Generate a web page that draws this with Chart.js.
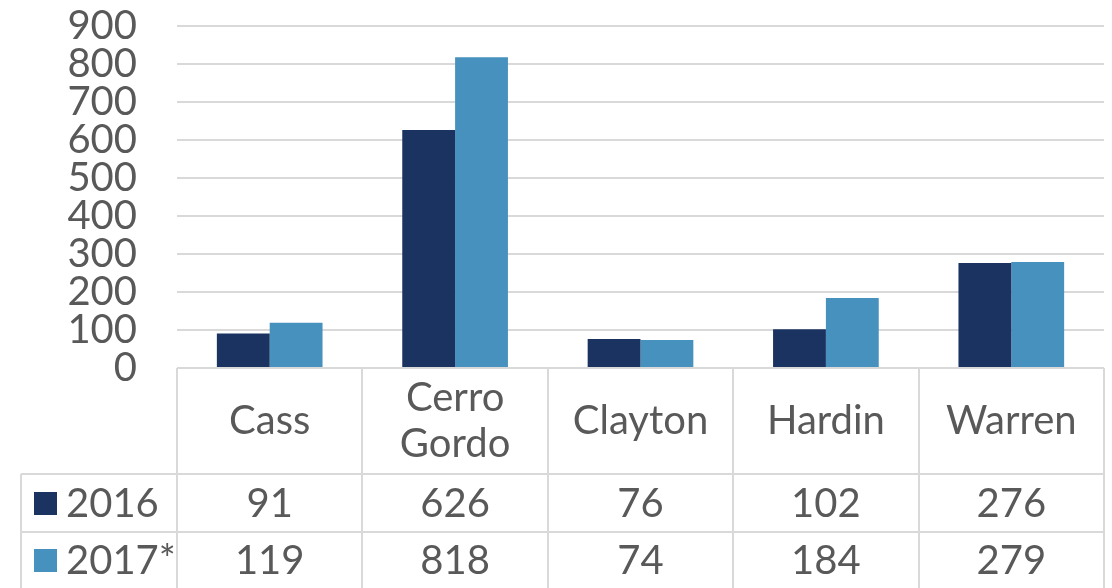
<!DOCTYPE html>
<html>
<head>
<meta charset="utf-8">
<script src="https://cdn.jsdelivr.net/npm/chart.js@4/dist/chart.umd.min.js"></script>
<style>
html,body{margin:0;padding:0;background:#fff;}
#wrap{width:1112px;height:588px;position:relative;}
</style>
</head>
<body>
<div id="wrap"><canvas id="c" width="1112" height="588"></canvas></div>
<script>
const categories = [["Cass"], ["Cerro", "Gordo"], ["Clayton"], ["Hardin"], ["Warren"]];
const seriesNames = ["2016", "2017*"];
const values2016 = [91, 626, 76, 102, 276];
const values2017 = [119, 818, 74, 184, 279];
const yTicks = [0, 100, 200, 300, 400, 500, 600, 700, 800, 900];

const colors = ["#1b3360", "#4691bd"];
const textColor = "#595959";
const lineColor = "#d9d9d9";
const fontFamily = "Lato, 'Open Sans', sans-serif";

const tablePlugin = {
  id: 'dataTable',
  afterDraw(chart) {
    const ctx = chart.ctx;
    const x = chart.scales.x;
    const area = chart.chartArea;
    const n = categories.length;
    const cw = (area.right - area.left) / n;
    const top = area.bottom;
    const row1 = 474, row2 = 532, bottom = 600;
    const leftEdge = 21;
    ctx.save();
    ctx.strokeStyle = lineColor;
    ctx.lineWidth = 2;
    ctx.beginPath();
    ctx.moveTo(area.left, top); ctx.lineTo(area.right, top);
    ctx.moveTo(leftEdge, row1); ctx.lineTo(area.right, row1);
    ctx.moveTo(leftEdge, row2); ctx.lineTo(area.right, row2);
    for (let i = 0; i <= n; i++) {
      const px = Math.round(area.left + cw * i);
      ctx.moveTo(px, top); ctx.lineTo(px, bottom);
    }
    ctx.moveTo(leftEdge, row1); ctx.lineTo(leftEdge, bottom);
    ctx.stroke();

    ctx.fillStyle = textColor;
    ctx.textAlign = 'center';
    ctx.textBaseline = 'middle';
    ctx.font = "40px " + fontFamily;
    const headerMid = (top + row1) / 2;
    categories.forEach((lines, i) => {
      const cx = x.getPixelForValue(i);
      const lh = 46;
      lines.forEach((t, j) => {
        const cy = headerMid + (j - (lines.length - 1) / 2) * lh;
        ctx.fillText(t, cx, cy);
      });
      ctx.fillText(String(values2016[i]), cx, (row1 + row2) / 2 + 1);
      ctx.fillText(String(values2017[i]), cx, (row2 + 588) / 2 + 1);
    });
    const rows = [(row1 + row2) / 2, (row2 + 588) / 2];
    rows.forEach((cy, k) => {
      ctx.fillStyle = colors[k];
      ctx.fillRect(34, cy - 11, 23, 23);
      ctx.fillStyle = textColor;
      ctx.textAlign = 'left';
      ctx.fillText(seriesNames[k], 66, cy + 1);
    });
    ctx.restore();
  }
};

new Chart(document.getElementById('c'), {
  type: 'bar',
  data: {
    labels: categories.map(c => c.join(' ')),
    datasets: [
      { label: seriesNames[0], data: values2016, backgroundColor: colors[0], borderWidth: 0 },
      { label: seriesNames[1], data: values2017, backgroundColor: colors[1], borderWidth: 0 }
    ]
  },
  options: {
    responsive: false,
    animation: false,
    events: [],
    layout: { padding: { top: 26, right: 8, bottom: 220, left: 0 } },
    plugins: { legend: { display: false }, tooltip: { enabled: false } },
    datasets: { bar: { categoryPercentage: 0.57, barPercentage: 1.0 } },
    scales: {
      x: { display: false },
      y: {
        min: 0, max: 900,
        afterBuildTicks: s => { s.ticks = yTicks.map(v => ({ value: v })); },
        afterFit: s => { s.width = 177; s.paddingTop = 0; s.paddingBottom = 0; },
        border: { display: false },
        grid: { color: lineColor, lineWidth: 2, drawTicks: false },
        ticks: { color: textColor, font: { family: fontFamily, size: 40, lineHeight: 1.0 }, padding: 40, autoSkip: false }
      }
    }
  },
  plugins: [tablePlugin]
});
</script>
</body>
</html>
